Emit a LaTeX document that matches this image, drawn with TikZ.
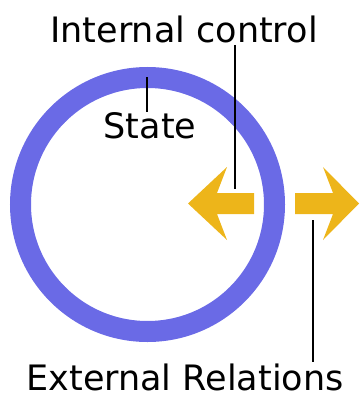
\documentclass[tikz,border=0pt]{standalone}
\usepackage{fontspec}
\setmainfont{DejaVu Sans}
\usetikzlibrary{positioning}
\definecolor{ringblue}{RGB}{106,106,230}
\definecolor{arrowgold}{RGB}{237,181,26}
\tikzset{
    ring/.style = {draw=ringblue,line width=21pt},
    arrowbody/.style = {fill=arrowgold},
    lbl/.style = {anchor=base,inner sep=0pt,font=\fontsize{35}{40}\selectfont},
    leader/.style = {draw=black,line width=1.3pt}, % label lines
}
\begin{document}
\begin{tikzpicture}[x=1pt,y=-1pt]
\useasboundingbox (0,0) rectangle (360,396);
\draw[ring] (147.5,204.5) circle[radius=127pt];
% arrows
\fill[arrowbody] (188,203.5) -- (227,167) -- (217,193) -- (254,193) -- (254,214) -- (217,214) -- (227,240) -- cycle;
\fill[arrowbody] (359,203.5) -- (323,167) -- (333,193) -- (295,193) -- (295,214) -- (333,214) -- (323,240) -- cycle;
\node[lbl] at (184,43) (intctl) {Internal control};
\node[lbl] at (150,138) (state) {State};
\node[lbl] at (185,390.5) (extrel) {External Relations};
\coordinate (ctlTop) at (235,45);
\coordinate (ctlBot) at (235,189);
\coordinate (stTop) at (147,77);
\coordinate (stBot) at (147,112);
\coordinate (extTop) at (313,220);
\coordinate (extBot) at (313,362);
\draw[leader] (ctlTop) -- (ctlBot);
\draw[leader] (stTop) -- (stBot);
\draw[leader] (extTop) -- (extBot);
\end{tikzpicture}
\end{document}
